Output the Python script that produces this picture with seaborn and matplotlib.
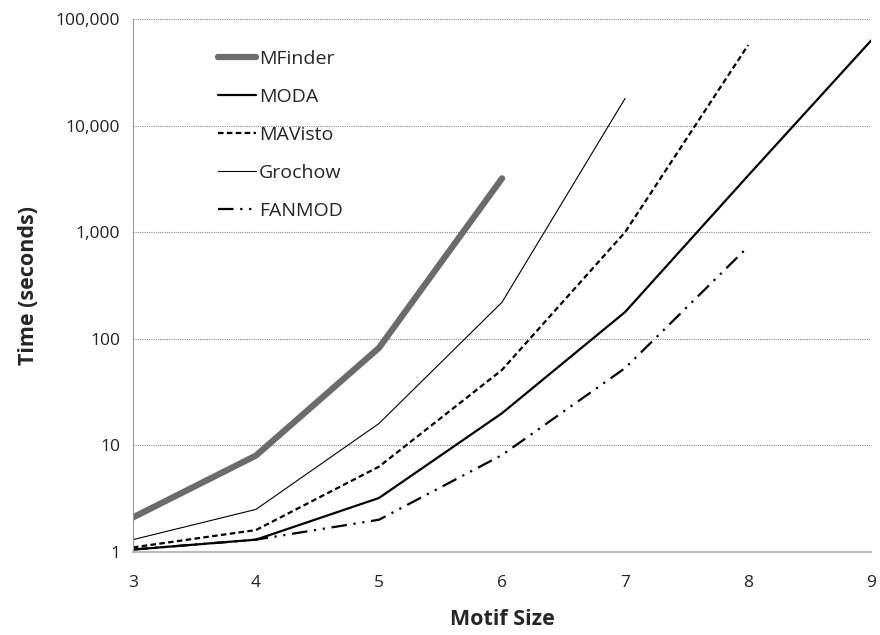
import matplotlib
matplotlib.use('Agg')
import matplotlib.pyplot as plt
import matplotlib.ticker as ticker
import seaborn as sns

# data (time in seconds per motif size)
mfinder_x = [3, 4, 5, 6]
mfinder_y = [2.1, 8, 82, 3200]
moda_x = [3, 4, 5, 6, 7, 8, 9]
moda_y = [1.05, 1.3, 3.2, 20, 178, 3400, 63000]
mavisto_x = [3, 4, 5, 6, 7, 8]
mavisto_y = [1.1, 1.6, 6.3, 51, 1000, 57000]
grochow_x = [3, 4, 5, 6, 7]
grochow_y = [1.3, 2.5, 16, 220, 18000]
fanmod_x = [3, 4, 5, 6, 7, 8]
fanmod_y = [1.05, 1.3, 2.0, 8.1, 53, 730]

y_ticks = [1, 10, 100, 1000, 10000, 100000]

sns.set_style('white')
plt.rcParams['font.family'] = ['Open Sans', 'DejaVu Sans']

fig = plt.figure(figsize=(8.8, 6.35), dpi=100)
ax = fig.add_axes([0.151, 0.131, 0.839, 0.839])

sns.lineplot(x=mfinder_x, y=mfinder_y, ax=ax, color='#6b6b6b', lw=4.5,
             label='MFinder', solid_capstyle='round')
sns.lineplot(x=moda_x, y=moda_y, ax=ax, color='black', lw=1.6, label='MODA')
sns.lineplot(x=mavisto_x, y=mavisto_y, ax=ax, color='black', lw=1.6,
             linestyle=(0, (2.5, 1.5)), label='MAVisto')
sns.lineplot(x=grochow_x, y=grochow_y, ax=ax, color='black', lw=0.8, label='Grochow')
sns.lineplot(x=fanmod_x, y=fanmod_y, ax=ax, color='black', lw=1.6,
             linestyle=(0, (7, 3, 1, 3, 1, 3)), label='FANMOD')

ax.set_yscale('log')
ax.set_ylim(1, 100000)
ax.set_xlim(3, 9)
ax.set_yticks(y_ticks)
ax.yaxis.set_major_formatter(ticker.FuncFormatter(lambda v, p: f'{int(v):,}'))
ax.yaxis.set_minor_locator(ticker.NullLocator())
ax.set_xticks(range(3, 10))

ax.grid(axis='y', color='#888888', linestyle=(0, (1, 1)), lw=0.8)
ax.grid(axis='x', visible=False)
ax.set_axisbelow(True)
for side in ['top', 'right']:
    ax.spines[side].set_visible(False)
ax.spines['left'].set_color('#999999')
ax.spines['bottom'].set_color('#bbbbbb')
ax.spines['bottom'].set_linewidth(1.5)
ax.tick_params(axis='both', length=0, labelsize=12.5, colors='#222222')
ax.tick_params(axis='x', pad=17)
ax.tick_params(axis='y', pad=9)

ax.set_xlabel('Motif Size', fontsize=15.5, fontweight='bold', labelpad=13)
ax.set_ylabel('Time (seconds)', fontsize=15.5, fontweight='bold', labelpad=12)

ax.legend(loc='upper left', bbox_to_anchor=(0.092, 0.975), frameon=False,
          fontsize=14, handlelength=1.95, handletextpad=0.15, labelspacing=1.03)

fig.savefig('out.png', dpi=100)
